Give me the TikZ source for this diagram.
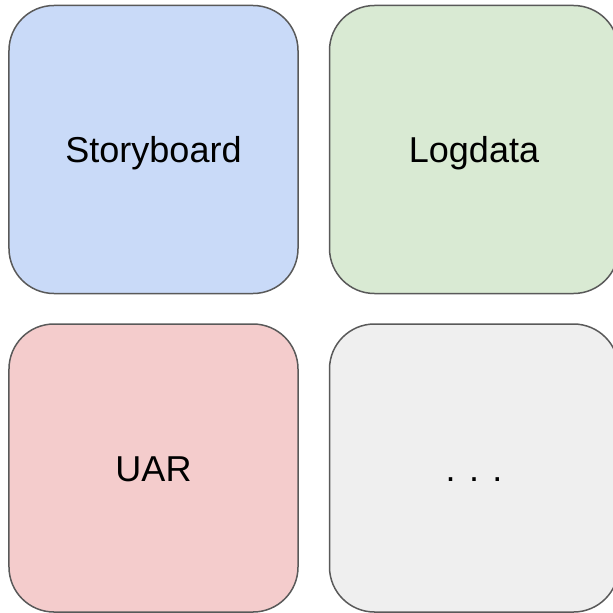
\documentclass[tikz,border=0pt]{standalone}
\usepackage{fontspec}
\setmainfont{Liberation Sans}
\usepackage{tikz}
\usetikzlibrary{positioning}
\definecolor{tileblue}{HTML}{C9DAF8}
\definecolor{tilegreen}{HTML}{D9EAD3}
\definecolor{tilered}{HTML}{F4CCCC}
\definecolor{tilegray}{HTML}{EFEFEF}
\definecolor{tileline}{HTML}{595959}

\begin{document}
\begin{tikzpicture}[x=1bp,y=-1bp,
  tile/.style={draw=tileline, line width=1.5bp, rounded corners=45bp,
    minimum width=289bp, minimum height=288bp, inner sep=0pt,
    text height=26bp, text depth=0pt,
    font=\fontsize{36bp}{43bp}\selectfont},
  node distance=29bp]
\useasboundingbox (0,0) rectangle (613,613);
\node [tile, fill=tileblue] (story) at (153.5,149.5) {Storyboard};
\node [tile, fill=tilegreen, right=30bp of story] (logdata) {Logdata};
\node [tile, fill=tilered, below=of story] (uar) {UAR};
\node [tile, fill=tilegray, right=30bp of uar] (more) {. . .};
\end{tikzpicture}
\end{document}
